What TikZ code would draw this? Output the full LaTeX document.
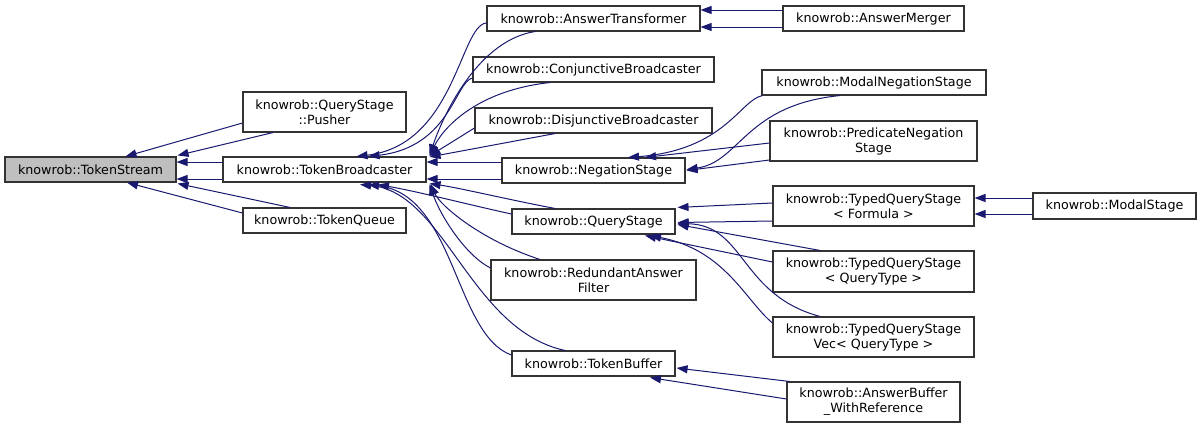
\documentclass[tikz,border=0pt]{standalone}
\usepackage{fontspec}
\setmainfont{DejaVu Sans}
\usetikzlibrary{arrows.meta,calc}
\definecolor{edgecol}{HTML}{191970}
\definecolor{bordercol}{HTML}{333333}
\definecolor{basefill}{HTML}{BFBFBF}
\begin{document}
\begin{tikzpicture}[x=1pt,y=-1pt,
  cls/.style={draw=bordercol,line width=1.1pt,fill=white,inner sep=0pt,align=center,
    font=\fontsize{12.7}{15}\selectfont},
  edge/.style={draw=edgecol,line width=1pt,-{Triangle[length=11pt,width=8pt]}}]
\useasboundingbox[fill=white] (0,0) rectangle (1201,429);
% nodes
\node[cls,fill=basefill,minimum width=171pt,minimum height=25pt] (TS) at (90.5,169.5) {knowrob::TokenStream};
\node[cls,minimum width=163pt,minimum height=40pt] (PU) at (324.5,112) {knowrob::QueryStage\\::Pusher};
\node[cls,minimum width=203pt,minimum height=25pt] (TB) at (324.5,169.5) {knowrob::TokenBroadcaster};
\node[cls,minimum width=163pt,minimum height=25pt] (TQ) at (324.5,220.5) {knowrob::TokenQueue};
\node[cls,minimum width=213pt,minimum height=25pt] (AT) at (593.5,18.5) {knowrob::AnswerTransformer};
\node[cls,minimum width=181pt,minimum height=25pt] (AM) at (873.5,18.5) {knowrob::AnswerMerger};
\node[cls,minimum width=241pt,minimum height=25pt] (CB) at (593.5,69.5) {knowrob::ConjunctiveBroadcaster};
\node[cls,minimum width=237pt,minimum height=25pt] (DB) at (593.5,120.5) {knowrob::DisjunctiveBroadcaster};
\node[cls,minimum width=183pt,minimum height=25pt] (NS) at (593.5,170.5) {knowrob::NegationStage};
\node[cls,minimum width=224pt,minimum height=25pt] (MNS) at (874,82.5) {knowrob::ModalNegationStage};
\node[cls,minimum width=207pt,minimum height=40pt] (PNS) at (873.5,141) {knowrob::PredicateNegation\\Stage};
\node[cls,minimum width=163pt,minimum height=25pt] (QS) at (593.5,221.5) {knowrob::QueryStage};
\node[cls,minimum width=205pt,minimum height=40pt] (RAF) at (593.5,280) {knowrob::RedundantAnswer\\Filter};
\node[cls,minimum width=163pt,minimum height=25pt] (TBF) at (593.5,363.5) {knowrob::TokenBuffer};
\node[cls,minimum width=201pt,minimum height=40pt] (TQF) at (873.5,206) {knowrob::TypedQueryStage\\< Formula >};
\node[cls,minimum width=163pt,minimum height=26pt] (MS) at (1114.5,206) {knowrob::ModalStage};
\node[cls,minimum width=201pt,minimum height=41pt] (TQT) at (873.5,271.5) {knowrob::TypedQueryStage\\< QueryType >};
\node[cls,minimum width=201pt,minimum height=40pt] (TQV) at (873.5,337) {knowrob::TypedQueryStage\\Vec< QueryType >};
\node[cls,minimum width=173pt,minimum height=40pt] (AB) at (873.5,402) {knowrob::AnswerBuffer\\\_WithReference};
% edges to TokenStream
\draw[edge] ($(PU.west)+(0,11)$) -- ($(TS.north)+(35,0)$);
\draw[edge] ($(PU.south)+(-51.5,0)$) -- ($(TS.north east)+(1,-1)$);
\draw[edge] ($(TB.west)+(0,-7.5)$) -- ($(TS.east)+(0,-7.5)$);
\draw[edge] ($(TB.west)+(0,9.5)$) -- ($(TS.east)+(0,9.5)$);
\draw[edge] ($(TQ.north)+(-34.5,0)$) -- ($(TS.south east)+(1,1)$);
\draw[edge] ($(TQ.west)+(0,-7.5)$) -- ($(TS.south)+(36.5,0)$);
% edges to TokenBroadcaster
\draw[edge] ($(AT.west)+(0,4.5)$) .. controls (460,25) and (455,145) .. ($(TB.north)+(32,0)$);
\draw[edge] ($(CB.west)+(0,8.5)$) .. controls (455,82) and (450,147) .. ($(TB.north)+(44,0)$);
\draw[edge] ($(AT.south)+(-58.5,0)$) .. controls (480,40) and (445,110) .. ($(TB.north east)+(3,-1)$);
\draw[edge] ($(CB.south)+(-43.5,0)$) .. controls (480,90) and (445,125) .. ($(TB.north east)+(3,-1)$);
\draw[edge] ($(DB.west)+(0,7.5)$) -- ($(TB.north east)+(3,-0.5)$);
\draw[edge] ($(DB.south)+(-38.5,0)$) -- ($(TB.north east)+(3,0.5)$);
\draw[edge] ($(NS.west)+(0,-8.5)$) -- ($(TB.east)+(0,-7.5)$);
\draw[edge] ($(NS.west)+(0,8.5)$) -- ($(TB.east)+(0,9.5)$);
\draw[edge] ($(QS.north)+(-38.5,0)$) .. controls (510,200) and (460,188) .. ($(TB.south east)+(3,1)$);
\draw[edge] ($(RAF.west)+(0,-12)$) .. controls (465,255) and (440,215) .. ($(TB.south east)+(3,1.5)$);
\draw[edge] ($(RAF.north)+(-53.5,0)$) .. controls (480,240) and (440,205) .. ($(TB.south east)+(4,1.5)$);
\draw[edge] ($(QS.west)+(0,-7.5)$) .. controls (470,205) and (420,192) .. ($(TB.south)+(53.5,2)$);
\draw[edge] ($(TBF.west)+(0,-8.5)$) .. controls (455,335) and (455,195) .. ($(TB.south)+(43.5,2)$);
\draw[edge] ($(TBF.north)+(-28.5,0)$) .. controls (470,330) and (445,192) .. ($(TB.south)+(35.5,2)$);
% AnswerMerger -> AnswerTransformer
\draw[edge] ($(AM.west)+(0,-8.5)$) -- ($(AT.east)+(0,-8.5)$);
\draw[edge] ($(AM.west)+(0,8.5)$) -- ($(AT.east)+(0,8.5)$);
% NegationStage children
\draw[edge] ($(MNS.south west)+(1,0)$) .. controls (740,100) and (725,150) .. ($(NS.north)+(34.5,0)$);
\draw[edge] ($(MNS.south)+(-34,0)$) .. controls (745,105) and (740,162) .. ($(NS.east)+(1,-1)$);
\draw[edge] ($(PNS.west)+(0,2)$) -- ($(NS.north)+(51.5,0)$);
\draw[edge] ($(PNS.west)+(0,19)$) -- ($(NS.east)+(1,0)$);
% QueryStage children
\draw[edge] ($(TQF.west)+(0,-3)$) -- ($(QS.north east)+(2,-1)$);
\draw[edge] ($(TQF.west)+(0,15)$) -- ($(QS.east)+(2,1)$);
\draw[edge] ($(TQT.north)+(-53.5,0)$) -- ($(QS.east)+(2,3)$);
\draw[edge] ($(TQV.north)+(-53.5,0)$) .. controls (740,295) and (745,225) .. ($(QS.east)+(2,2)$);
\draw[edge] ($(TQT.west)+(0,-9.5)$) -- ($(QS.south)+(51.5,1)$);
\draw[edge] ($(TQV.west)+(0,-14)$) .. controls (745,300) and (725,250) .. ($(QS.south)+(56.5,1)$);
% ModalStage -> TypedQueryStage<Formula>
\draw[edge] ($(MS.west)+(0,-8)$) -- ($(TQF.east)+(0,-8)$);
\draw[edge] ($(MS.west)+(0,8)$) -- ($(TQF.east)+(0,8)$);
% AnswerBuffer -> TokenBuffer
\draw[edge] ($(AB.north west)+(3,0)$) -- ($(TBF.east)+(1,4.5)$);
\draw[edge] ($(AB.west)+(0,-3)$) -- ($(TBF.south)+(56.5,1)$);
\end{tikzpicture}
\end{document}
